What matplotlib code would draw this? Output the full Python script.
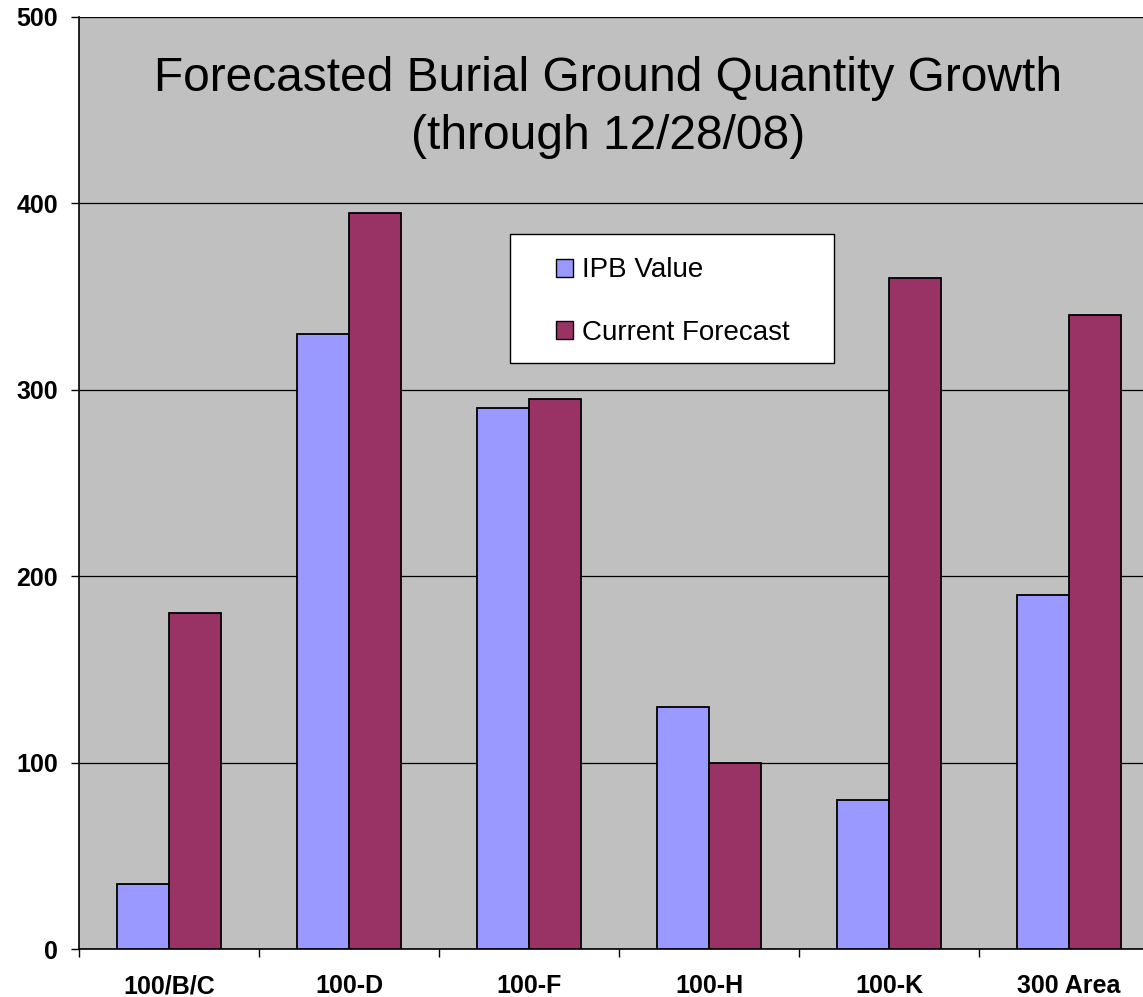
import matplotlib
matplotlib.use("Agg")
import matplotlib.pyplot as plt
from matplotlib.patches import Patch, Rectangle
import numpy as np

plt.rcParams['font.family'] = ['Liberation Sans', 'DejaVu Sans']

categories = ["100/B/C", "100-D", "100-F", "100-H", "100-K", "300 Area"]
ipb_value = [35, 330, 290, 130, 80, 190]
current_forecast = [180, 395, 295, 100, 360, 340]
series_names = ["IPB Value", "Current Forecast"]
y_ticks = [0, 100, 200, 300, 400, 500]

W, H = 1143, 997
fig = plt.figure(figsize=(W / 100, H / 100), dpi=100)
fig.patch.set_facecolor("white")

ax = fig.add_axes([79 / W, 48 / H, 1080 / W, 932 / H])
ax.set_facecolor("#C0C0C0")

x = np.arange(len(categories))
bw = 0.288
ipb_color = "#9999FF"
fc_color = "#993366"
ax.bar(x - bw / 2, ipb_value, bw, color=ipb_color, edgecolor="black", linewidth=1.3, zorder=3)
ax.bar(x + bw / 2, current_forecast, bw, color=fc_color, edgecolor="black", linewidth=1.3, zorder=3)

ax.set_xlim(-0.5, len(categories) - 0.5)
ax.set_ylim(0, 500)
ax.set_yticks(y_ticks)
ax.set_yticklabels([str(v) for v in y_ticks], fontsize=18, fontweight="bold")
ax.yaxis.grid(True, color="black", linewidth=0.9, zorder=0)
ax.set_axisbelow(True)

ax.set_xticks(x)
ax.set_xticklabels(categories, fontsize=18, fontweight="bold")
ax.set_xticks(np.arange(len(categories) + 1) - 0.5, minor=True)
ax.tick_params(axis="x", which="major", length=0, pad=18)
ax.tick_params(axis="x", which="minor", length=6, width=1, color="black")
ax.tick_params(axis="y", length=6, width=1, pad=9)

for side in ["top", "right"]:
    ax.spines[side].set_visible(False)
ax.spines["left"].set_linewidth(1.2)
ax.spines["bottom"].set_linewidth(1.2)

ax.text(0.49, 0.958, "Forecasted Burial Ground Quantity Growth\n(through 12/28/08)",
        transform=ax.transAxes, ha="center", va="top", fontsize=34.5, linespacing=1.37)

# Legend box drawn as a figure patch, with a frameless legend inside it
fig.patches.append(Rectangle((510 / W, 1 - 363 / H), 324 / W, 129 / H,
                             transform=fig.transFigure, facecolor="white",
                             edgecolor="black", linewidth=1.0, zorder=5))
handles = [Patch(facecolor=ipb_color, edgecolor="black", linewidth=1.0),
           Patch(facecolor=fc_color, edgecolor="black", linewidth=1.0)]
leg = fig.legend(handles, series_names, loc="center left",
                 bbox_to_anchor=(556 / W, 1 - 301.5 / H), borderaxespad=0,
                 fontsize=20, frameon=False, borderpad=0,
                 handlelength=0.62, handleheight=0.62, handletextpad=0.3,
                 labelspacing=1.3)
leg.set_zorder(6)

fig.savefig("out.png", dpi=100)
